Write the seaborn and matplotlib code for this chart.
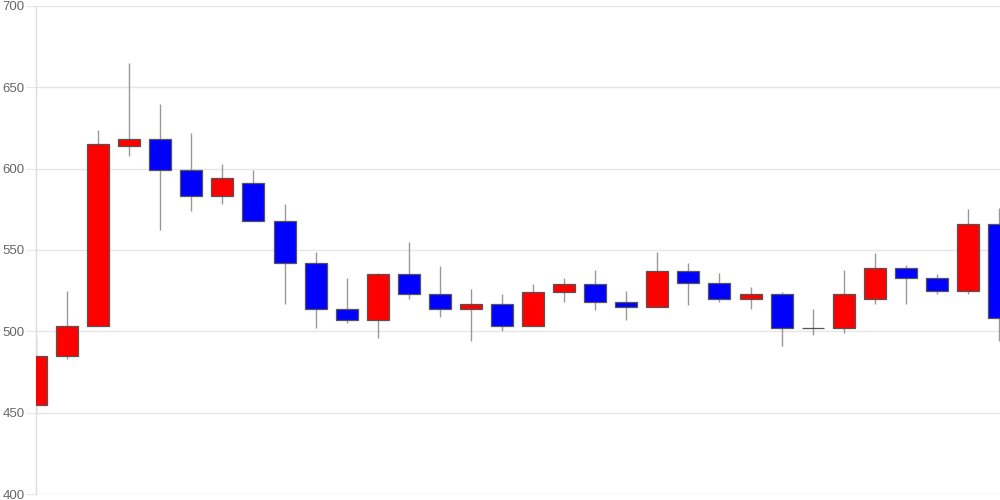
import matplotlib
matplotlib.use("Agg")
import matplotlib.pyplot as plt
import seaborn as sns
import pandas as pd
import numpy as np

opens  = [455, 485, 503, 614, 618, 599, 583, 591, 568, 542, 514, 507, 535, 523, 514, 517,
          503, 524, 529, 518, 515, 537, 530, 520, 523, 502, 502, 520, 539, 533, 525, 566]
closes = [485, 503, 615, 618, 599, 583, 594, 568, 542, 514, 507, 535, 523, 514, 517, 503,
          524, 529, 518, 515, 537, 530, 520, 523, 502, 502, 523, 539, 533, 525, 566, 508]
highs  = [496, 525, 624, 665, 640, 622, 603, 599, 578, 549, 533, 536, 555, 540, 526, 523,
          529, 533, 538, 525, 549, 542, 536, 527, 524, 514, 538, 548, 541, 535, 575, 576]
lows   = [451, 483, 503, 608, 562, 574, 578, 568, 517, 502, 505, 496, 520, 509, 494, 500,
          503, 518, 513, 507, 515, 516, 518, 514, 491, 498, 499, 517, 517, 523, 523, 494]
y_ticks = [400, 450, 500, 550, 600, 650, 700]

df = pd.DataFrame({"open": opens, "close": closes, "high": highs, "low": lows})
df["idx"] = np.arange(len(df))
df["bottom"] = df[["open", "close"]].min(axis=1)
df["height"] = (df["close"] - df["open"]).abs()
df["color"] = np.where(df["close"] > df["open"], "#ff0000",
                       np.where(df["close"] < df["open"], "#0000ff", "#888888"))

sns.set_style("white")
plt.rcParams["font.family"] = ["Liberation Sans", "DejaVu Sans"]

fig = plt.figure(figsize=(10, 5), dpi=100)
ax = fig.add_axes([0.036, 0.012, 0.964, 0.976])

ax.vlines(df["idx"], df["low"], df["high"], color="#999999", linewidth=1.0, zorder=2)
ax.bar(df["idx"], df["height"], bottom=df["bottom"], width=0.71,
       color=df["color"], edgecolor="#555555", linewidth=0.9, zorder=3)

ax.set_ylim(400, 700)
ax.set_xlim(0, 31.03)
ax.set_yticks(y_ticks)
ax.set_yticklabels([str(v) for v in y_ticks])
ax.set_xticks([])
ax.yaxis.grid(True, color="#e6e6e6", linewidth=1.0, zorder=0)
ax.set_axisbelow(True)
ax.tick_params(axis="y", length=7.5, color="#e6e6e6", pad=0.5, labelsize=9.5,
               labelcolor="#666666", left=True)
for s in ["top", "right", "bottom"]:
    ax.spines[s].set_visible(False)
ax.spines["left"].set_color("#dddddd")
ax.spines["left"].set_linewidth(1.0)

fig.savefig("out.png", dpi=100)
